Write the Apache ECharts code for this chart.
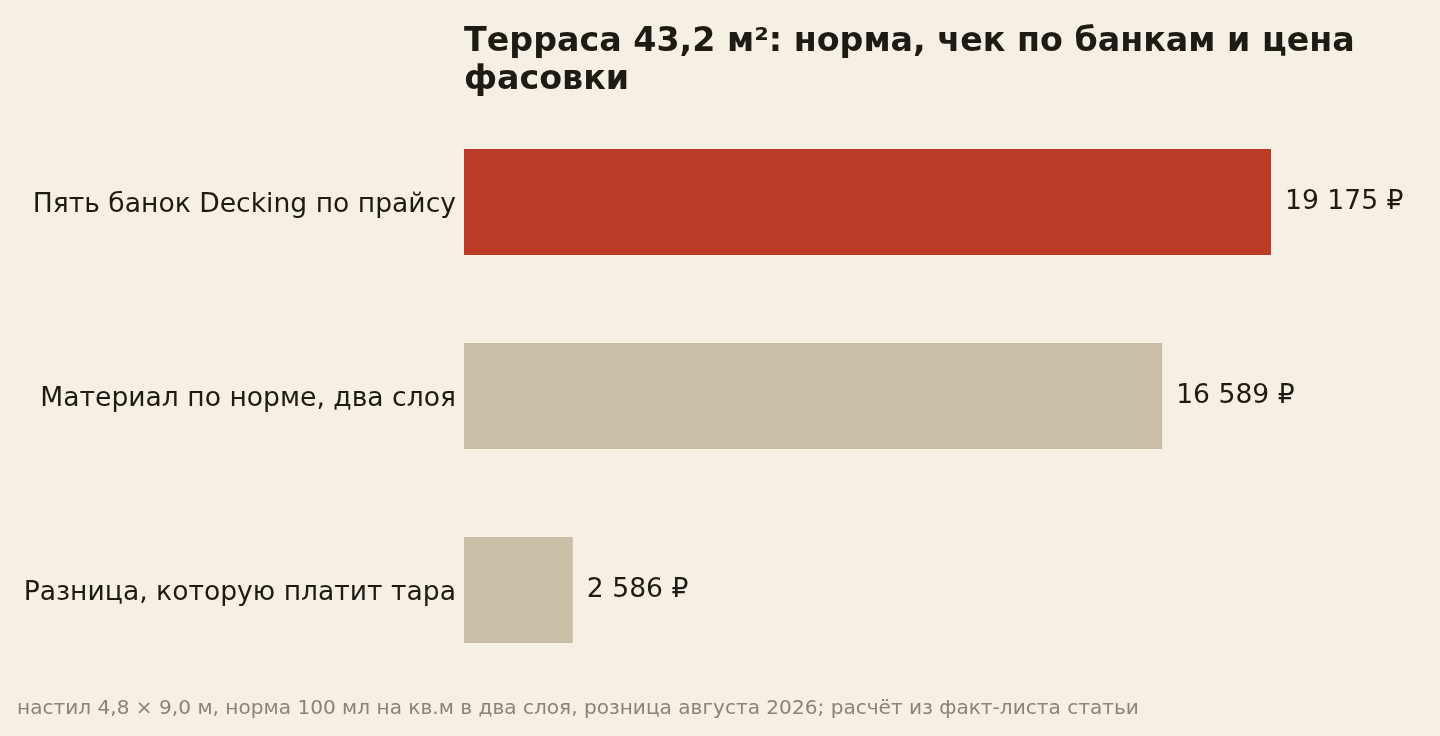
<!DOCTYPE html>
<html>
<head>
<meta charset="utf-8">
<script src="https://cdn.jsdelivr.net/npm/echarts@6/dist/echarts.min.js"></script>
<style>
  html, body { margin: 0; padding: 0; background: #f6f0e4; }
  #terrace-chart { width: 1440px; height: 736px; }
</style>
</head>
<body>
<div id="terrace-chart"></div>
<script>
var categories = ['Пять банок Decking по прайсу', 'Материал по норме, два слоя', 'Разница, которую платит тара'];
var costValues = [19175, 16589, 2586];
var barColors = ['#bc3c28', '#c9bfa7', '#c9bfa7'];

var FONT = 'DejaVu Sans';
var terraceChart = echarts.init(document.getElementById('terrace-chart'));

function formatRub(v) {
  return String(v).replace(/\B(?=(\d{3})+(?!\d))/g, ' ') + ' ₽';
}

var option = {
  backgroundColor: '#f6f0e4',
  textStyle: { fontFamily: FONT },
  title: [{
    text: 'Терраса 43,2 м²: норма, чек по банкам и цена\nфасовки',
    left: 464,
    top: 23,
    padding: 0,
    textStyle: {
      fontFamily: FONT,
      fontSize: 33.3,
      fontWeight: 'bold',
      color: '#1e1a14',
      lineHeight: 38
    }
  }, {
    text: 'настил 4,8 × 9,0 м, норма 100 мл на кв.м в два слоя, розница августа 2026; расчёт из факт-листа статьи',
    left: 17,
    top: 698,
    padding: 0,
    textStyle: {
      fontFamily: FONT,
      fontSize: 20.1,
      lineHeight: 22,
      fontWeight: 'normal',
      color: '#8a8377'
    }
  }],
  grid: {
    left: 464,
    right: 169,
    top: 105,
    bottom: 49,
    containLabel: false
  },
  xAxis: {
    type: 'value',
    min: 0,
    max: 19175,
    show: false
  },
  yAxis: {
    type: 'category',
    inverse: true,
    data: categories,
    axisLine: { show: false },
    axisTick: { show: false },
    axisLabel: {
      margin: 8,
      formatter: function (v) { return '{c|' + v + '}'; },
      rich: {
        c: {
          fontSize: 26.6,
          color: '#1e1a14',
          fontFamily: FONT,
          padding: [6, 0, 0, 0]
        }
      }
    }
  },
  series: [{
    type: 'bar',
    barWidth: 106,
    data: costValues.map(function (v, i) {
      return { value: v, itemStyle: { color: barColors[i] } };
    }),
    label: {
      show: true,
      position: 'right',
      distance: 14,
      fontSize: 26.6,
      color: '#1e1a14',
      fontFamily: FONT,
      formatter: function (p) { return formatRub(p.value); }
    },
    animation: false
  }]
};

terraceChart.setOption(option, false);
</script>
</body>
</html>
